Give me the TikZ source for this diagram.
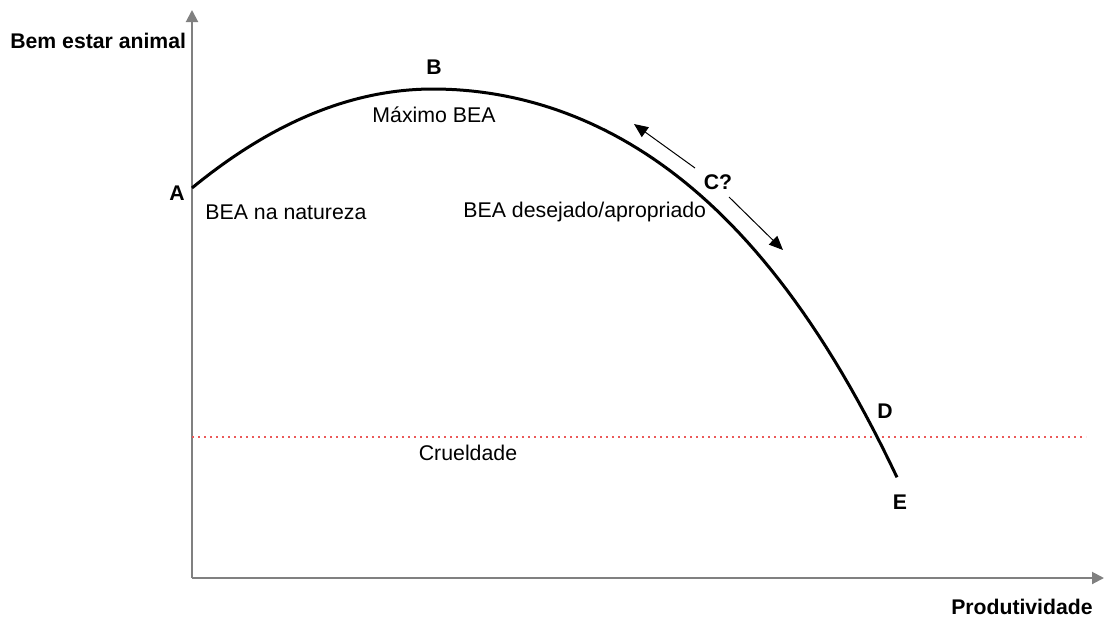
\documentclass[tikz,border=0pt]{standalone}
\usepackage{fontspec}
\setmainfont{Liberation Sans}
\usetikzlibrary{arrows.meta}
\definecolor{axisGray}{RGB}{128,128,128}
\definecolor{cruelRed}{RGB}{235,90,90}
\tikzset{
  axis/.style={draw=axisGray,line width=1pt,-{Triangle[length=6pt,width=6pt]}},
  pointlab/.style={font=\fontsize{10.6}{13}\selectfont\bfseries},
  arealab/.style={font=\fontsize{10.65}{13}\selectfont},
  shiftarrow/.style={line width=0.5pt,-{Triangle[length=7pt,width=6pt]}}
}
\begin{document}
\begin{tikzpicture}[x=0.5pt,y=-0.5pt]
\useasboundingbox (0,0) rectangle (1105,618);
% Axes
\coordinate (origin) at (192,578);
\coordinate (ytop) at (192,10);
\coordinate (xend) at (1104,578);
\draw[axis] (origin) -- (ytop);
\draw[axis] (origin) -- (xend);
\node[pointlab,anchor=west,inner sep=0pt] (ylab) at (10,41) {Bem estar animal};
\node[pointlab,anchor=east,inner sep=0pt] (xlab) at (1093,607) {Produtividade};

% Cruelty line
\coordinate (cl) at (192,437);
\coordinate (cr) at (1086,437);
\draw[cruelRed,line width=0.8pt,dash pattern=on 1.2pt off 1.8pt] (cl) -- (cr);
\node[arealab] (cruel) at (468,453) {Crueldade};

% Welfare curve
\draw[line width=1.5pt] plot[domain=-2.41:0,samples=40,variable=\t] ({433+100*\t},{89+17.04*\t*\t})
  -- plot[domain=0:4.64,samples=60,variable=\t] ({433+100*\t},{89+13.3*\t*\t+0.22*\t*\t*\t*\t});

% Points
\node[pointlab] (pA) at (177,193) {A};
\node[pointlab] (pB) at (434,67) {B};
\node[pointlab] (pC) at (718,182) {C?};
\node[pointlab] (pD) at (885,411) {D};
\node[pointlab] (pE) at (900,502) {E};

% Area labels
\node[arealab] (maxb) at (434,115) {Máximo BEA};
\node[arealab,anchor=west,inner sep=0pt] (nat) at (205,212) {BEA na natureza};
\node[arealab,anchor=west,inner sep=0pt] (desej) at (463,212) {BEA desejado/apropriado};

% Shift arrows
\coordinate (upS) at (695,168);
\coordinate (upT) at (634,124);
\coordinate (dnS) at (729,197);
\coordinate (dnT) at (783,250);
\draw[shiftarrow] (upS) -- (upT);
\draw[shiftarrow] (dnS) -- (dnT);
\end{tikzpicture}
\end{document}
